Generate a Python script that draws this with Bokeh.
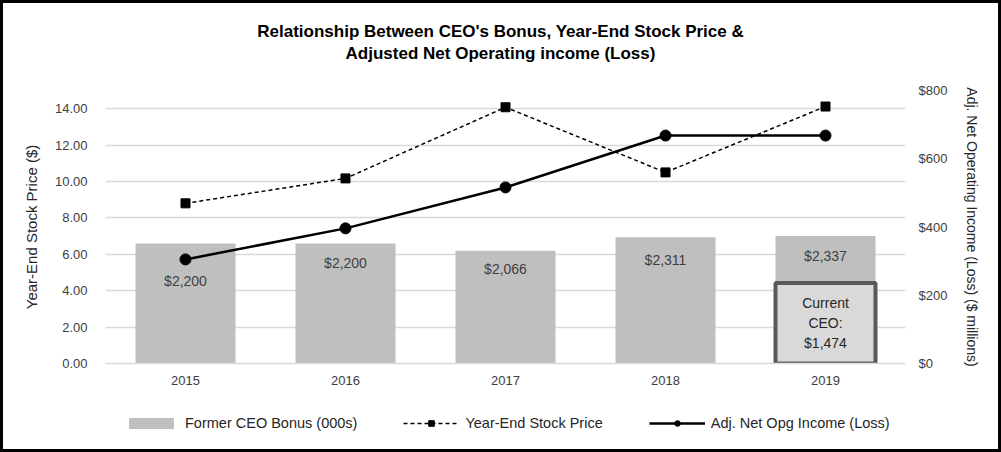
from bokeh.plotting import figure
from bokeh.layouts import column
from bokeh.models import (Range1d, FactorRange, LinearAxis, FixedTicker, NumeralTickFormatter,
                          Legend, LegendItem, ColumnDataSource, Div)
from bokeh.core.properties import value
from bokeh.embed import file_html
from bokeh.resources import INLINE

years = ["2015", "2016", "2017", "2018", "2019"]
former_bonus = [2200, 2200, 2066, 2311, 2337]
bonus_labels = ["$2,200", "$2,200", "$2,066", "$2,311", "$2,337"]
stock_price = [8.80, 10.17, 14.08, 10.50, 14.12]
net_income = [305, 396, 516, 668, 668]
current_year = ["2019"]
current_bonus = [1474]
current_label = ["Current\nCEO:\n$1,474"]
title_lines = ["Relationship Between CEO's Bonus, Year-End Stock Price &",
               "Adjusted Net Operating income (Loss)"]
legend_labels = ["Former CEO Bonus (000s)", "Year-End Stock Price", "Adj. Net Opg Income (Loss)"]

label_dy = [38, 20, 18, 23, 20]

FONT = "Liberation Sans"
BAR = "#bfbfbf"

title = Div(text="<br>".join(title_lines), width=995, height=60, margin=0,
            styles={"font-family": FONT, "font-weight": "bold", "font-size": "17px",
                    "line-height": "22px", "text-align": "center", "color": "black",
                    "padding-top": "18px", "box-sizing": "border-box"})

p = figure(width=995, height=340, x_range=years, y_range=Range1d(0, 15),
           output_backend="svg", toolbar_location=None, margin=0,
           min_border_left=102, min_border_right=93, min_border_top=27, min_border_bottom=40)
p.outline_line_color = None
p.xgrid.grid_line_color = None
p.ygrid.grid_line_color = "#d9d9d9"
p.ygrid.grid_line_width = 1.5
p.ygrid.ticker = FixedTicker(ticks=[0, 2, 4, 6, 8, 10, 12, 14])

p.extra_y_ranges = {"inc": Range1d(0, 800), "bonus": Range1d(0, 5000)}

bsrc = ColumnDataSource(dict(x=years, b=former_bonus, t=bonus_labels, dy=label_dy))
p.vbar(x="x", top="b", width=0.625, source=bsrc, y_range_name="bonus",
       fill_color=BAR, line_color=None)
p.text(x="x", y="b", text="t", y_offset="dy", source=bsrc, y_range_name="bonus",
       text_align="center", text_baseline="middle", text_font=value(FONT),
       text_font_size="14px", text_color="#404040")

csrc = ColumnDataSource(dict(x=current_year, b=current_bonus, t=current_label,
                             mid=[v / 2 for v in current_bonus]))
p.vbar(x="x", top="b", width=0.625, source=csrc, y_range_name="bonus",
       fill_color="#d9d9d9", line_color="#595959", line_width=4)
p.text(x="x", y="mid", text="t", source=csrc, y_range_name="bonus",
       text_align="center", text_baseline="middle", text_font=value(FONT),
       text_font_size="14px", text_color="#262626", text_line_height=1.25)

p.line(years, stock_price, line_color="black", line_width=1.5, line_dash="4 3")
p.scatter(years, stock_price, marker="square", size=9, fill_color="black", line_color="black")

p.line(years, net_income, y_range_name="inc", line_color="black", line_width=2.5)
p.scatter(years, net_income, y_range_name="inc", marker="circle", size=11,
          fill_color="black", line_color="black")

ya = p.yaxis[0]
ya.ticker = FixedTicker(ticks=[0, 2, 4, 6, 8, 10, 12, 14])
ya.formatter = NumeralTickFormatter(format="0.00")
ya.axis_line_color = None
ya.major_label_standoff = 18
ya.axis_label = "Year-End Stock Price ($)"
ya.axis_label_standoff = 12

ra = LinearAxis(y_range_name="inc", ticker=FixedTicker(ticks=[0, 200, 400, 600, 800]),
                formatter=NumeralTickFormatter(format="$0"))
ra.axis_line_color = None
ra.major_label_standoff = 13
ra.axis_label = "Adj. Net Operating Income (Loss) ($ millions)"
ra.axis_label_standoff = 14
p.add_layout(ra, "right")

xa = p.xaxis[0]
xa.axis_line_color = "#d9d9d9"
xa.axis_line_width = 1.5
xa.major_label_standoff = 12

for ax in (ya, ra, xa):
    ax.major_tick_line_color = None
    ax.minor_tick_line_color = None
    ax.major_tick_out = 0
    ax.major_tick_in = 0
    ax.minor_tick_out = 0
    ax.major_label_text_font = FONT
    ax.major_label_text_font_size = "13px"
    ax.major_label_text_color = "#404040"
    ax.axis_label_text_font = FONT
    ax.axis_label_text_font_style = "normal"
    ax.axis_label_text_color = "#262626"
ya.axis_label_text_font_size = "15px"
ra.axis_label_text_font_size = "14px"

# legend strip (renderers hidden; only their legend glyphs are shown)
lg = figure(width=995, height=46, x_range=FactorRange(*years), y_range=Range1d(0, 1),
            output_backend="svg", toolbar_location=None, min_border=0, margin=0,
            x_axis_type=None, y_axis_type=None)
lg.outline_line_color = None
lg.xgrid.visible = False
lg.ygrid.visible = False
r_bar = lg.vbar(x=years, top=former_bonus, width=0.5, fill_color=BAR, line_color=None, visible=False)
r_sl = lg.line(years, stock_price, line_color="black", line_width=1.5, line_dash="4 3", visible=False)
r_ss = lg.scatter(years, stock_price, marker="square", size=9, fill_color="black",
                  line_color="black", visible=False)
r_il = lg.line(years, net_income, line_color="black", line_width=2.5, visible=False)
r_ic = lg.scatter(years, net_income, marker="circle", size=11, fill_color="black",
                  line_color="black", visible=False)

legend = Legend(items=[
    LegendItem(label=legend_labels[0], renderers=[r_bar]),
    LegendItem(label=legend_labels[1], renderers=[r_sl, r_ss]),
    LegendItem(label=legend_labels[2], renderers=[r_il, r_ic]),
], orientation="horizontal", location=(18, 18), glyph_width=56, glyph_height=14,
   spacing=46, label_standoff=6, label_text_font=FONT, label_text_font_size="14.5px",
   label_text_color="#262626", border_line_color=None, background_fill_alpha=0,
   margin=0, padding=4)
lg.add_layout(legend, "center")

layout = column(title, p, lg, spacing=0, margin=0, styles={"border": "3px solid black"})

open("out.html", "w").write(file_html(layout, INLINE))
